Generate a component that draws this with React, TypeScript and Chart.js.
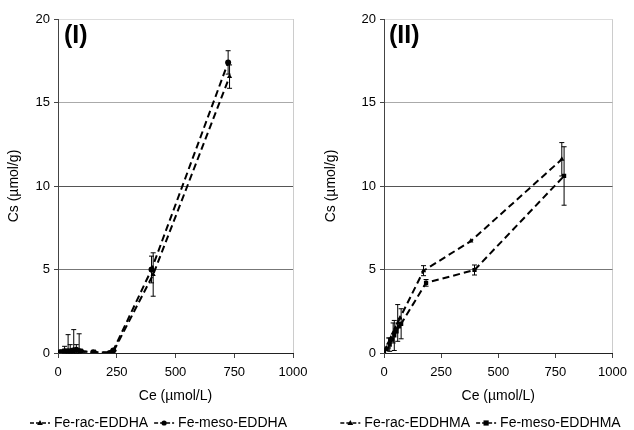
import React, { useEffect, useRef } from "react";
import { Chart, registerables } from "chart.js";

Chart.register(...registerables);

// Panel I data
const racIX = [5, 12, 20, 30, 43, 55, 67, 80, 90, 105, 160, 225, 240, 405, 730];
const racIY = [0.05, 0.05, 0.1, 0.1, 0.1, 0.15, 0.2, 0.15, 0.15, 0.1, 0.05, 0.05, 0.2, 4.7, 16.55];
const racIErr = [0, 0, 0, 0, 1.0, 0, 1.2, 0, 1.0, 0, 0, 0, 0, 1.3, 0.7];
const mesoIX = [3, 10, 18, 28, 40, 52, 64, 78, 95, 150, 220, 235, 398, 724];
const mesoIY = [0, 0.05, 0.05, 0.1, 0.1, 0.1, 0.15, 0.2, 0.1, 0.05, 0, 0.15, 5.0, 17.4];
const mesoIErr = [0, 0, 0, 0.3, 0, 0.4, 0, 0.3, 0, 0, 0, 0, 0.8, 0.7];

// Panel II data
const racIIX = [0, 10, 20, 30, 40, 50, 60, 70, 173, 380, 778];
const racIIY = [0, 0.3, 0.6, 0.9, 1.2, 1.5, 1.8, 2.1, 4.93, 6.7, 11.6];
const racIIErr = [0, 0, 0.3, 0, 0.6, 0, 1.1, 0, 0.3, 0, 1.0];
const mesoIIX = [0, 12, 25, 35, 45, 55, 65, 75, 184, 396, 788];
const mesoIIY = [0, 0.25, 0.5, 0.8, 1.05, 1.3, 1.6, 1.75, 4.2, 4.97, 10.6];
const mesoIIErr = [0, 0, 0.4, 0, 0.9, 0, 0, 0.9, 0.2, 0.3, 1.75];

const xTicks = [0, 250, 500, 750, 1000];
const yTicks = [0, 5, 10, 15, 20];
const xTitle = "Ce (µmol/L)";
const yTitle = "Cs (µmol/g)";

const FAMILY = "'Liberation Sans', Arial, sans-serif";

function drawMarker(g: CanvasRenderingContext2D, style: string, x: number, y: number, r: number) {
  g.beginPath();
  if (style === "triangle") {
    g.moveTo(x, y - r * 1.2);
    g.lineTo(x + r * 1.1, y + r * 0.8);
    g.lineTo(x - r * 1.1, y + r * 0.8);
    g.closePath();
  } else if (style === "circle") {
    g.arc(x, y, r, 0, Math.PI * 2);
  } else {
    g.rect(x - r, y - r, 2 * r, 2 * r);
  }
  g.fill();
}

const errorBarPlugin = {
  id: "errorBars",
  afterDatasetsDraw(chart: any) {
    const { ctx, scales } = chart;
    const ys = scales.y;
    ctx.save();
    ctx.strokeStyle = "#000";
    ctx.lineWidth = 1;
    chart.data.datasets.forEach((ds: any, di: number) => {
      const meta = chart.getDatasetMeta(di);
      (ds.errors || []).forEach((e: number, i: number) => {
        if (!e) return;
        const pt = meta.data[i];
        const v = ds.data[i].y;
        const x = pt.x;
        const top = ys.getPixelForValue(v + e);
        const bot = ys.getPixelForValue(Math.max(0, v - e));
        ctx.beginPath();
        ctx.moveTo(x, top);
        ctx.lineTo(x, bot);
        ctx.moveTo(x - 2.5, top);
        ctx.lineTo(x + 2.5, top);
        ctx.moveTo(x - 2.5, bot);
        ctx.lineTo(x + 2.5, bot);
        ctx.stroke();
      });
    });
    ctx.restore();
  },
};

const panelLabelPlugin = {
  id: "panelLabel",
  afterDraw(chart: any) {
    const o = chart.options.plugins.panelLabel;
    if (!o) return;
    const { ctx, chartArea } = chart;
    ctx.save();
    ctx.fillStyle = "#000";
    ctx.font = `bold 25px ${FAMILY}`;
    ctx.textBaseline = "top";
    ctx.textAlign = "left";
    ctx.fillText(o.text, chartArea.left + o.dx, chartArea.top + 5);
    ctx.restore();
  },
};

const bottomLegendPlugin = {
  id: "bottomLegend",
  afterDraw(chart: any) {
    const o = chart.options.plugins.bottomLegend;
    if (!o) return;
    const { ctx } = chart;
    ctx.save();
    ctx.font = `14px ${FAMILY}`;
    ctx.textBaseline = "middle";
    ctx.textAlign = "left";
    const iconW = 20;
    const gapText = 4;
    const gapItem = 6;
    const items = chart.data.datasets.map((d: any) => ({ text: d.label, marker: d.pointStyle, w: ctx.measureText(d.label).width }));
    let total = 0;
    items.forEach((it: any, i: number) => {
      total += iconW + gapText + it.w + (i > 0 ? gapItem : 0);
    });
    let x = chart.width / 2 - total / 2 + o.dx;
    const y = o.y;
    items.forEach((it: any) => {
      ctx.strokeStyle = "#000";
      ctx.fillStyle = "#000";
      ctx.lineWidth = 1.5;
      ctx.setLineDash([4, 2]);
      ctx.beginPath();
      ctx.moveTo(x, y);
      ctx.lineTo(x + iconW, y);
      ctx.stroke();
      ctx.setLineDash([]);
      drawMarker(ctx, it.marker, x + iconW / 2, y, 2.6);
      x += iconW + gapText;
      ctx.fillText(it.text, x, y);
      x += it.w + gapItem;
    });
    ctx.restore();
  },
};

type PanelProps = {
  label: string;
  dx: number;
  left: number;
  right: number;
  legendDx: number;
  series: { name: string; xs: number[]; ys: number[]; errs: number[]; marker: "triangle" | "circle" | "rect" }[];
};

function Panel({ label, dx, left, right, legendDx, series }: PanelProps) {
  const ref = useRef<HTMLCanvasElement>(null);
  useEffect(() => {
    const font = { family: FAMILY, size: 13 };
    const bigFont = { family: FAMILY, size: 14 };
    const chart = new Chart(ref.current!, {
      type: "scatter",
      data: {
        datasets: series.map((s) => ({
          label: s.name,
          data: s.xs.map((x, i) => ({ x, y: s.ys[i] })),
          errors: s.errs,
          showLine: true,
          borderColor: "#000",
          backgroundColor: "#000",
          borderWidth: 2,
          borderDash: [7, 4],
          pointStyle: s.marker,
          pointRadius: 3,
          pointBorderWidth: 0,
        })) as any,
      },
      options: {
        animation: false,
        responsive: false,
        layout: { padding: { left: 0, right: right, top: 19, bottom: 0 } },
        plugins: {
          legend: { display: false },
          tooltip: { enabled: false },
          panelLabel: { text: label, dx },
          bottomLegend: { y: 423, dx: legendDx },
        } as any,
        scales: {
          x: {
            type: "linear",
            min: 0,
            max: 1000,
            afterBuildTicks: (s: any) => {
              s.ticks = xTicks.map((v) => ({ value: v }));
            },
            afterFit: (s: any) => {
              s.height = 77;
            },
            ticks: { color: "#000", font, padding: 7, maxRotation: 0, callback: (v: any) => String(v) },
            title: { display: true, text: xTitle, color: "#000", font: bigFont, padding: { top: 3, bottom: 25 } },
            grid: {
              drawOnChartArea: true,
              color: (c: any) => (c.tick && c.tick.value === 1000 ? "#ccc" : "rgba(0,0,0,0)"),
              tickColor: "#444",
              tickLength: 5,
            },
            border: { color: "#222", width: 1 },
          },
          y: {
            type: "linear",
            min: 0,
            max: 20,
            afterBuildTicks: (s: any) => {
              s.ticks = yTicks.map((v) => ({ value: v }));
            },
            afterFit: (s: any) => {
              s.width = left;
            },
            ticks: { color: "#000", font, padding: 4, callback: (v: any) => String(v) },
            title: { display: true, text: yTitle, color: "#000", font: bigFont, padding: { top: 6, bottom: 4 } },
            grid: {
              color: (c: any) => {
                const v = c.tick ? c.tick.value : 0;
                if (v === 20) return "#ddd";
                if (v === 15) return "#aaa";
                if (v === 10) return "#555";
                if (v === 5) return "#777";
                return "rgba(0,0,0,0)";
              },
              tickColor: "#444",
              tickLength: 4,
            },
            border: { color: "#444", width: 1 },
          },
        },
      },
      plugins: [errorBarPlugin, panelLabelPlugin, bottomLegendPlugin],
    });
    return () => chart.destroy();
  }, []);
  return <canvas ref={ref} width={317} height={430} style={{ display: "block" }} />;
}

export default function App() {
  return (
    <div style={{ position: "absolute", left: 0, top: 0, width: 634, height: 430, display: "flex", background: "#fff" }}>
      <Panel
        label="(I)"
        dx={6}
        left={58}
        right={24}
        legendDx={0}
        series={[
          { name: "Fe-rac-EDDHA", xs: racIX, ys: racIY, errs: racIErr, marker: "triangle" },
          { name: "Fe-meso-EDDHA", xs: mesoIX, ys: mesoIY, errs: mesoIErr, marker: "circle" },
        ]}
      />
      <Panel
        label="(II)"
        dx={5}
        left={67}
        right={17}
        legendDx={5}
        series={[
          { name: "Fe-rac-EDDHMA", xs: racIIX, ys: racIIY, errs: racIIErr, marker: "triangle" },
          { name: "Fe-meso-EDDHMA", xs: mesoIIX, ys: mesoIIY, errs: mesoIIErr, marker: "rect" },
        ]}
      />
    </div>
  );
}
